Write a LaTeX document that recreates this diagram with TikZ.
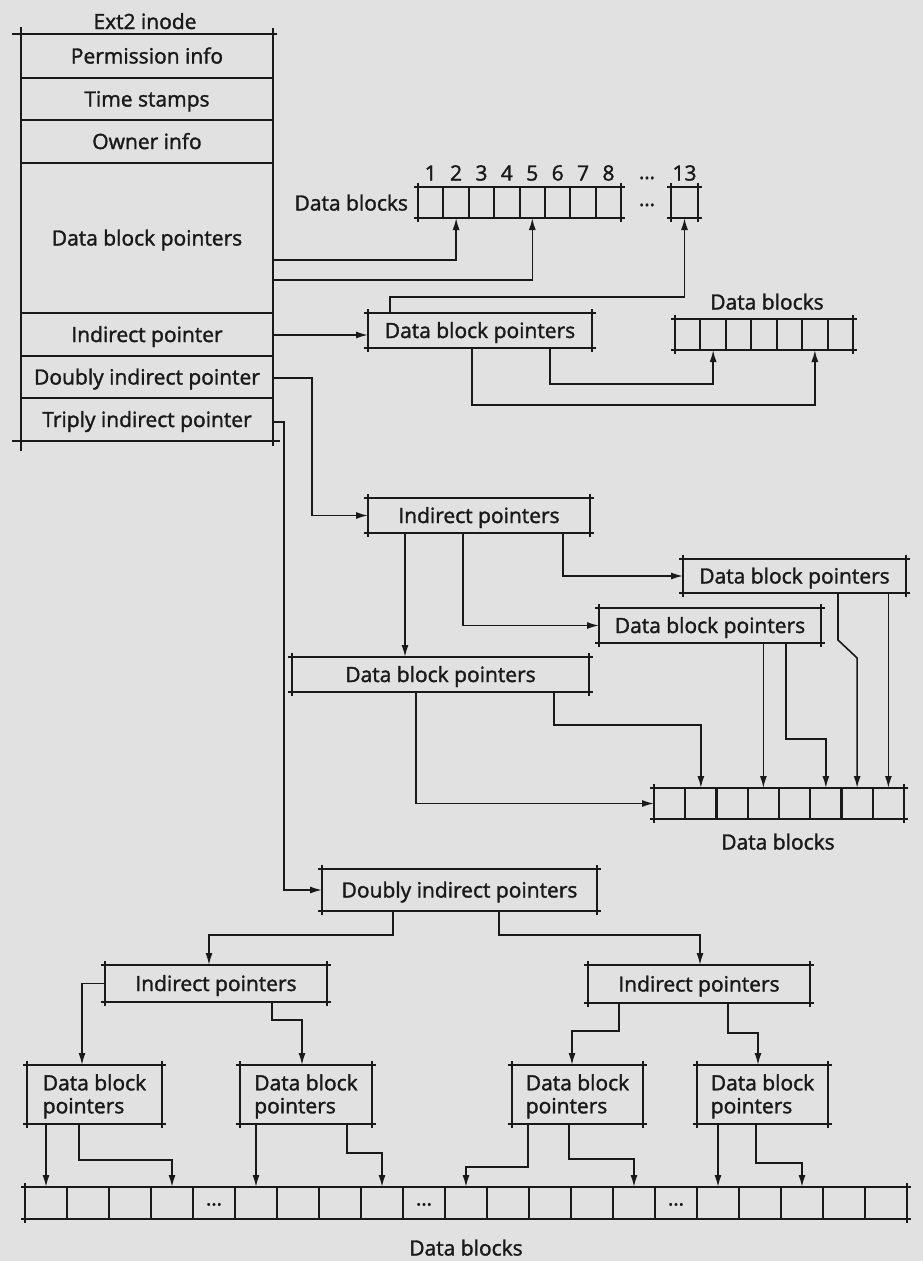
\documentclass[tikz,border=0pt]{standalone}
\usepackage{fontspec}
\setmainfont{Open Sans}
\newfontfamily\medfont{Open Sans}[FakeBold=1.6]
\usetikzlibrary{arrows.meta}
\definecolor{bg}{RGB}{225,225,225}
\definecolor{ink}{RGB}{25,25,25}
\tikzset{
  ln/.style={draw=ink, line width=2.1pt},
  arr/.style={draw=ink, line width=1.6pt, -{Latex[length=12pt,width=7pt]}},
  lbl/.style={font=\medfont\fontsize{21}{25}\selectfont, text=ink, inner sep=0pt, outer sep=0pt, text height=15pt, text depth=0pt},
  bxs/.style={lbl, shape=rectangle, draw=none},
  inrow/.style={lbl, shape=rectangle, draw=ink, line width=2.1pt, minimum width=252},
  cell/.style={shape=rectangle, draw=ink, line width=2.1pt, inner sep=0pt, outer sep=0pt},
  dots/.style={font=\medfont\fontsize{20}{24}\selectfont, text=ink, inner sep=0pt, anchor=base},
}
\newcommand\xframe[2]{%
  \draw[ln] ([xshift=-4pt]#1.north west) -- ([xshift=4pt]#2.north east)
            ([xshift=-4pt]#1.south west) -- ([xshift=4pt]#2.south east)
            ([yshift=4pt]#1.north west) -- ([yshift=-4pt]#1.south west)
            ([yshift=4pt]#2.north east) -- ([yshift=-4pt]#2.south east);}
\newcommand\bx[6]{%
  \node[bxs, minimum width={#4-#2}, minimum height={#5-#3}] (#1) at ({(#2+#4)/2},{(#3+#5)/2}) {#6};
  \xframe{#1}{#1}}
\newcommand\cellrow[6]{%
  \foreach \i in {1,...,#4}{%
    \node[cell, minimum width=#3, minimum height={#6-#5}] (#1\i) at ({#2+(\i-0.5)*#3},{(#5+#6)/2}) {};}}
\newcommand\irow[4]{%
  \node[inrow, minimum height={#3-#2}] (#1) at (147,{(#2+#3)/2}) {#4};}
\begin{document}
\begin{tikzpicture}[x=1pt,y=-1pt]
\fill[bg] (0,0) rectangle (923,1261);
\useasboundingbox (0,0) rectangle (923,1261);

% ---------- inode ----------
\node[lbl] (title) at (145,21.5) {Ext2 inode};
\irow{perm}{34}{78}{Permission info}
\irow{time}{78}{120}{Time stamps}
\irow{owner}{120}{163}{Owner info}
\irow{dbp}{163}{313}{Data block pointers}
\irow{ind}{313}{356}{Indirect pointer}
\irow{dind}{356}{398}{Doubly indirect pointer}
\irow{tind}{398}{441}{Triply indirect pointer}
\draw[ln] ([xshift=-9pt]perm.north west) -- ([xshift=4pt]perm.north east)
          ([xshift=-9pt]tind.south west) -- ([xshift=7pt]tind.south east)
          ([yshift=7pt]perm.north west) -- ([yshift=-10pt]tind.south west)
          ([yshift=6pt]perm.north east) -- ([yshift=-5pt]tind.south east);

% ---------- direct data blocks ----------
\cellrow{da}{418}{25.4}{8}{187}{218}
\node[cell, minimum width=27, minimum height=31] (da13) at (684.5,202.5) {};
\xframe{da1}{da8}
\xframe{da13}{da13}
\foreach \i in {1,...,8}{\node[lbl] (n\i) at (da\i |- 0,173) {\i};}
\node[lbl] (n13) at (da13 |- 0,173) {13};
\node[dots] (ndots) at (647,179) {...};
\node[dots] (cdots) at (647,206) {...};
\node[lbl, anchor=east] (lda) at (408,203) {Data blocks};

% ---------- single indirect ----------
\bx{sp}{368}{313}{592}{348}{Data block pointers}
\cellrow{db}{675}{25.43}{7}{319}{350}
\xframe{db1}{db7}
\node[lbl] (ldb) at (767,302) {Data blocks};

% ---------- doubly indirect ----------
\bx{ip1}{368}{498}{590}{533}{Indirect pointers}
\bx{dpA}{683}{559}{906}{593}{Data block pointers}
\bx{dpB}{599}{608}{821}{643}{Data block pointers}
\bx{dpC}{292}{657}{589}{692}{Data block pointers}
\cellrow{dc}{654}{31.25}{8}{788}{819}
\xframe{dc1}{dc8}
\node[lbl] (ldc) at (778,842) {Data blocks};

% ---------- triply indirect ----------
\bx{did}{322}{869}{597}{911}{Doubly indirect pointers}
\bx{ipL}{105}{965}{327}{1002}{Indirect pointers}
\bx{ipR}{588}{965}{810}{1003}{Indirect pointers}
\bx{b1}{27}{1065}{162}{1124}{\begin{tabular}{@{}l@{}}Data block\\[-2pt]pointers\end{tabular}}
\bx{b2}{240}{1065}{372}{1124}{\begin{tabular}{@{}l@{}}Data block\\[-2pt]pointers\end{tabular}}
\bx{b3}{512}{1065}{643}{1124}{\begin{tabular}{@{}l@{}}Data block\\[-2pt]pointers\end{tabular}}
\bx{b4}{697}{1065}{828}{1124}{\begin{tabular}{@{}l@{}}Data block\\[-2pt]pointers\end{tabular}}
\cellrow{dd}{25}{42}{21}{1187}{1219}
\xframe{dd1}{dd21}
\foreach \k in {5,10,16}{\node[dots] (ddd\k) at ([yshift=-2.5pt]dd\k.center) {...};}
\node[lbl] (ldd) at (466,1248) {Data blocks};

% ---------- connectors ----------
\draw[arr] (dbp.east |- 0,260) -| (da2.south);
\draw[arr] (dbp.east |- 0,280) -| (da5.south);
\draw[arr] (ind.east |- 0,335) -- (sp.west |- 0,335);
\draw[arr] (sp.north -| 390,0) |- (da13 |- 0,297) -- (da13.south);
\draw[arr] (sp.south -| 550,0) |- (db2 |- 0,384) -- (db2.south);
\draw[arr] (sp.south -| 472,0) |- (db6 |- 0,405) -- (db6.south);

\draw[arr] (dind.east |- 0,378) -| ([xshift=-56pt]ip1.west) -- (ip1.west);
\draw[arr] (ip1.south -| 405,0) -- (dpC.north -| 405,0);
\draw[arr] (ip1.south -| 463,0) |- (dpB.west);
\draw[arr] (ip1.south -| 563,0) |- (dpA.west);
\draw[arr] (dpC.south -| 416,0) |- (dc1.west);
\draw[arr] (dpC.south -| 554,0) |- (dc2 |- 0,725) -- (dc2.north);
\draw[arr] (dpB.south -| dc4) -- (dc4.north);
\draw[arr] (dpB.south -| 786,0) |- (dc6 |- 0,739) -- (dc6.north);
\draw[arr] (dpA.south -| 838,0) -- (838,640) -- (dc7 |- 0,658) -- (dc7.north);
\draw[arr] (dpA.south -| dc8) -- (dc8.north);

\draw[arr] (tind.east |- 0,422) -| ([xshift=-38pt]did.west) -- (did.west);
\draw[arr] (did.south -| 393,0) |- (209,935) -- (ipL.north -| 209,0);
\draw[arr] (did.south -| 499,0) |- (700,935) -- (ipR.north -| 700,0);
\draw[arr] (ipL.west) -| (b1.north -| 82,0);
\draw[arr] (ipL.south -| 272,0) -- (272,1020) -| (b2.north -| 302,0);
\draw[arr] (ipR.south -| 619,0) -- (619,1031) -| (b3.north -| 572,0);
\draw[arr] (ipR.south -| 728,0) -- (728,1033) -| (b4.north -| 758,0);

\draw[arr] (b1.south -| dd1) -- (dd1.north);
\draw[arr] (b1.south -| 79,0) -- (79,1160) -| (dd4.north);
\draw[arr] (b2.south -| dd6) -- (dd6.north);
\draw[arr] (b2.south -| 347,0) -- (347,1153) -| (dd9.north);
\draw[arr] (b3.south -| 528,0) -- (528,1167) -| (dd11.north);
\draw[arr] (b3.south -| 569,0) -- (569,1159) -| (dd15.north);
\draw[arr] (b4.south -| dd17) -- (dd17.north);
\draw[arr] (b4.south -| 756,0) -- (756,1163) -| (dd19.north);
\end{tikzpicture}
\end{document}
